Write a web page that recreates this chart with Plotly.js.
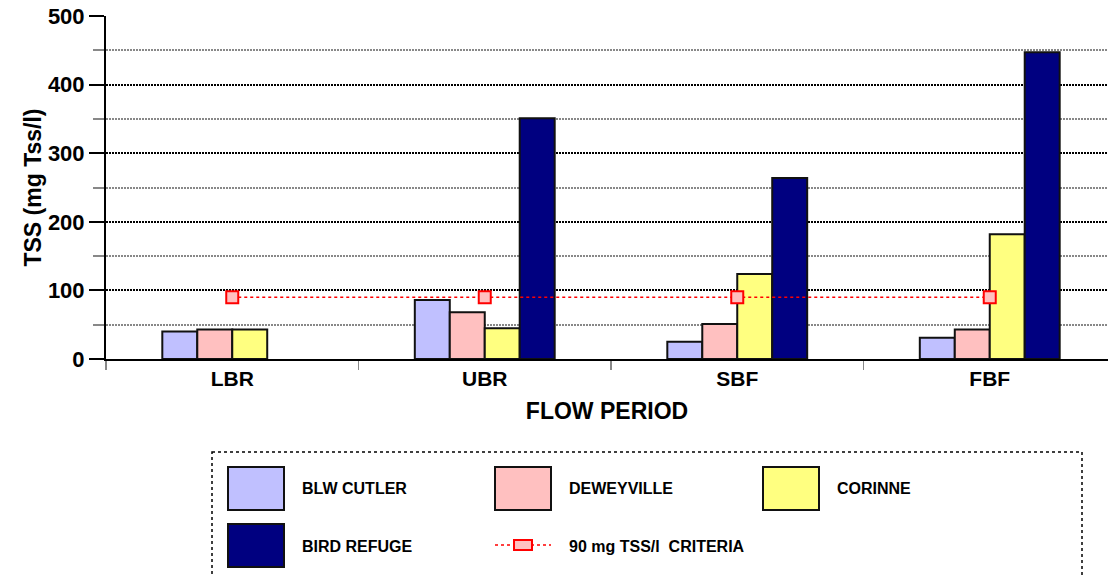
<!DOCTYPE html>
<html>
<head>
<meta charset="utf-8">
<script src="https://cdn.plot.ly/plotly-3.0.1.min.js"></script>
<style>html,body{margin:0;padding:0;background:#fff;}#chart{width:1108px;height:577px;}</style>
</head>
<body>
<div id="chart"></div>
<script>
// ---- data ----
const categories = ['LBR', 'UBR', 'SBF', 'FBF'];
const seriesNames = ['BLW CUTLER', 'DEWEYVILLE', 'CORINNE', 'BIRD REFUGE'];
const blwCutler = [40, 86, 25, 31];
const deweyville = [43, 68, 51, 43];
const corinne = [43, 45, 124, 182];
const birdRefuge = [null, 351, 264, 447];
const criteriaName = '90 mg TSS/l\u00a0 CRITERIA';
const criteria = [90, 90, 90, 90];
const yTickVals = [0, 100, 200, 300, 400, 500];

// ---- styles ----
const colors = ['#c0c0ff', '#ffc0c0', '#ffff80', '#000080'];
const FONT = 'Liberation Sans, Arial, sans-serif';
const seriesValues = [blwCutler, deweyville, corinne, birdRefuge];

const traces = seriesValues.map((vals, i) => ({
  type: 'bar',
  name: seriesNames[i],
  x: categories,
  y: vals,
  marker: {color: colors[i], line: {color: '#111', width: 2}},
  showlegend: false
}));
traces.push({
  type: 'scatter',
  mode: 'lines+markers',
  name: criteriaName,
  x: categories,
  y: criteria,
  line: {color: '#ff0000', width: 1.5, dash: 'dot'},
  marker: {symbol: 'square', size: 12, color: '#ffc0c0', line: {color: '#ff0000', width: 2}},
  showlegend: false
});

// pixel -> paper helpers (plot area: x 106..1108, y 16..359)
const L = 106, R = 0, T = 16, B = 218, W = 1108, H = 577;
const pw = W - L - R, ph = H - T - B;
const px = v => (v - L) / pw;
const py = v => (H - B - v) / ph;

const shapes = [];
const annotations = [];
// legend frame
shapes.push({type: 'rect', xref: 'paper', yref: 'paper', x0: px(212), x1: px(1082), y0: py(452), y1: py(600),
  line: {color: '#000', width: 1.5, dash: 'dot'}, fillcolor: 'rgba(0,0,0,0)'});
const colX = [228, 495, 763];
const rowY = [467, 524];
const entries = seriesNames.map((n, i) => ({name: n, color: colors[i], kind: 'bar'}));
entries.push({name: criteriaName, kind: 'line'});
entries.forEach((e, k) => {
  const cx = colX[k % 3], ry = rowY[Math.floor(k / 3)];
  if (e.kind === 'bar') {
    shapes.push({type: 'rect', xref: 'paper', yref: 'paper', x0: px(cx), x1: px(cx + 56), y0: py(ry), y1: py(ry + 43),
      line: {color: '#111', width: 2}, fillcolor: e.color});
  } else {
    const my = ry + 21;
    shapes.push({type: 'line', xref: 'paper', yref: 'paper', x0: px(cx), x1: px(cx + 56), y0: py(my), y1: py(my),
      line: {color: '#ff0000', width: 1.5, dash: 'dot'}});
    shapes.push({type: 'rect', xref: 'paper', yref: 'paper', x0: px(cx + 19), x1: px(cx + 37), y0: py(my - 5), y1: py(my + 5),
      line: {color: '#ff0000', width: 2}, fillcolor: '#ffc0c0'});
  }
  annotations.push({xref: 'paper', yref: 'paper', x: px(cx + 72), y: py(ry + 22), xanchor: 'left', yanchor: 'middle',
    text: e.name, showarrow: false, font: {family: FONT, size: 16, weight: 'bold', color: '#000'}});
});

const layout = {
  width: W, height: H,
  margin: {l: L, r: R, t: T, b: B, pad: 0},
  paper_bgcolor: '#fff', plot_bgcolor: '#fff',
  font: {family: FONT, color: '#000'},
  barmode: 'group', bargap: 0.446, bargroupgap: 0,
  showlegend: false,
  xaxis: {
    type: 'category', range: [-0.5, -0.5 + pw / 252.5],
    showline: true, linecolor: '#000', linewidth: 2,
    ticks: 'outside', tickson: 'boundaries', ticklen: 9, tickcolor: '#888', tickwidth: 1.5,
    tickfont: {family: FONT, size: 21, weight: 'bold'},
    showgrid: false, zeroline: false,
    title: {text: 'FLOW PERIOD', font: {family: FONT, size: 23, weight: 'bold'}, standoff: 14}
  },
  yaxis: {
    range: [0, 500], tickvals: yTickVals, ticktext: yTickVals.map(String),
    showline: true, linecolor: '#000', linewidth: 2,
    ticks: 'outside', ticklen: 15, tickcolor: '#000', tickwidth: 2,
    tickfont: {family: FONT, size: 22, weight: 'bold'},
    showgrid: true, gridcolor: '#000', gridwidth: 2, griddash: '2px,1px',
    minor: {dtick: 50, showgrid: true, gridcolor: '#888', gridwidth: 2, ticks: 'outside', ticklen: 11, tickcolor: '#888', tickwidth: 2},
    zeroline: false,
    title: {text: 'TSS (mg Tss/l)', font: {family: FONT, size: 23, weight: 'bold'}, standoff: 0}
  },
  shapes: shapes,
  annotations: annotations
};

Plotly.newPlot('chart', traces, layout, {staticPlot: true, displayModeBar: false});
</script>
</body>
</html>
